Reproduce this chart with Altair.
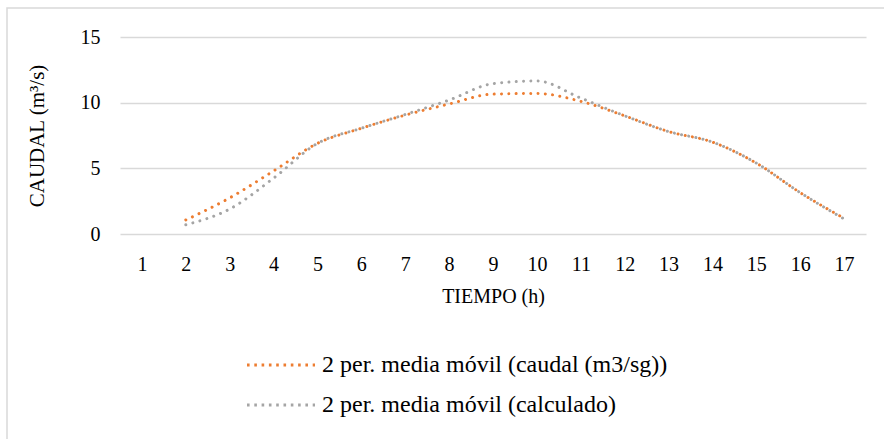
import altair as alt
import pandas as pd

# Hours (x categories shown on the axis) and the two moving-average series
axis_hours = list(range(1, 18))
hours = list(range(2, 18))
caudal = [1.07, 2.75, 4.8, 6.9, 8.05, 9.05, 9.9, 10.65, 10.7, 10.1, 9.0, 7.8, 7.0, 5.4, 3.15, 1.2]
calculado = [0.7, 1.9, 4.25, 6.9, 8.05, 9.1, 10.2, 11.45, 11.65, 10.35, 9.0, 7.8, 7.0, 5.4, 3.15, 1.15]

s1 = "2 per. media móvil (caudal (m3/sg))"
s2 = "2 per. media móvil (calculado)"
series_names = [s1, s2]
series_colors = ["#ED7D31", "#A5A5A5"]

df = pd.concat([
    pd.DataFrame({"hora": hours, "valor": caudal, "serie": s1}),
    pd.DataFrame({"hora": hours, "valor": calculado, "serie": s2}),
])

FONT = "Liberation Serif"

lines = alt.Chart(df).mark_line(
    interpolate="monotone",
    strokeWidth=3,
    strokeCap="round",
    strokeDash=[0.01, 7.3],
).encode(
    x=alt.X(
        "hora:Q",
        scale=alt.Scale(domain=[0.5, 17.5], nice=False, zero=False),
        axis=alt.Axis(
            values=axis_hours, title="TIEMPO (h)", grid=False, ticks=False,
            domain=False, labelPadding=20, titlePadding=12,
        ),
    ),
    y=alt.Y(
        "valor:Q",
        scale=alt.Scale(domain=[0, 15], nice=False),
        axis=alt.Axis(
            values=[0, 5, 10, 15], title="CAUDAL (m³/s)", ticks=False,
            domain=False, labelPadding=20, titlePadding=33, titleFontSize=21,
        ),
    ),
    color=alt.Color(
        "serie:N",
        scale=alt.Scale(domain=series_names, range=series_colors),
        sort=series_names,
        legend=alt.Legend(
            title=None, orient="none", legendX=149, legendY=316,
            direction="vertical", symbolType="M-4,0H4", symbolSize=289,
            symbolStrokeWidth=3, symbolDash=[2.6, 4.7], labelOffset=29,
            rowPadding=16, labelLimit=0, labelFontSize=24, labelFont=FONT,
            labelColor="#000000",
        ),
    ),
)

frame = alt.Chart(alt.Data(values=[{}])).mark_rect(
    fill=None, stroke="#D9D9D9", strokeWidth=1.5
).encode(
    x=alt.value(-113), x2=alt.value(800), y=alt.value(-29), y2=alt.value(500)
)

chart = alt.layer(frame, lines).properties(
    width=746, height=197,
    autosize=alt.AutoSizeParams(type="none"),
    padding={"left": 120, "top": 37, "right": 18, "bottom": 205},
).configure_view(stroke=None).configure_axis(
    labelFont=FONT, titleFont=FONT, labelFontSize=20, titleFontSize=20,
    labelColor="#000000", titleColor="#000000", titleFontWeight="normal",
    gridColor="#D9D9D9", gridWidth=1.5,
)

chart.save("out.html", embed_options={"renderer": "svg", "actions": False})
